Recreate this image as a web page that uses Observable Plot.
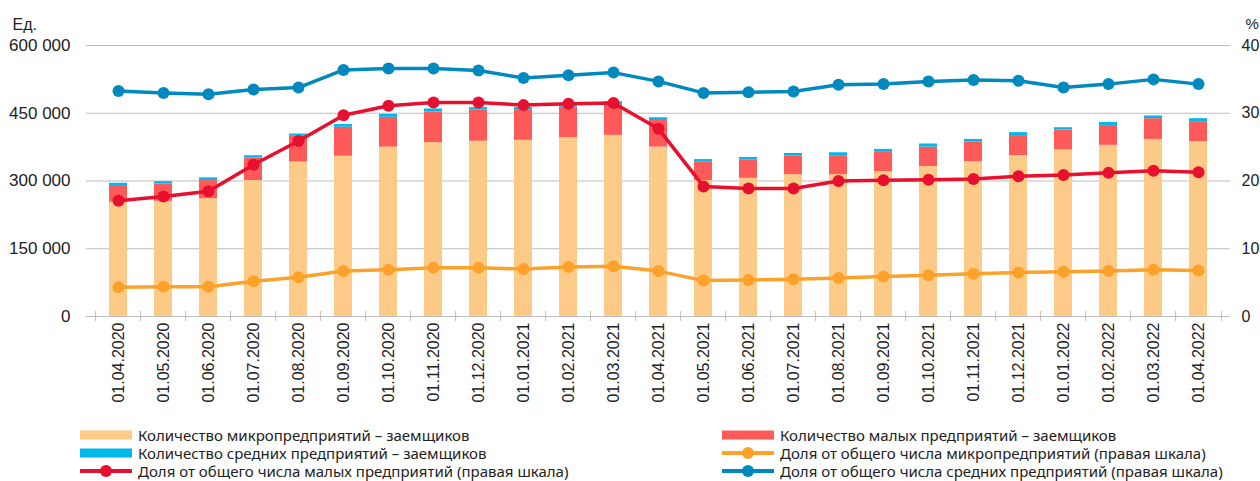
<!DOCTYPE html>
<html>
<head>
<meta charset="utf-8">
<script src="https://cdn.jsdelivr.net/npm/d3@7"></script>
<script src="https://cdn.jsdelivr.net/npm/@observablehq/plot@0.6"></script>
<style>
  body { margin: 0; background: #fff; }
  #chart { position: relative; width: 1260px; height: 481px; overflow: hidden; background: #fff; }
  .legend { position: absolute; left: 0; top: 420px; width: 1260px; height: 61px;
            font-family: "Noto Sans", sans-serif; font-size: 15px; color: #222; }
  .item { position: absolute; display: flex; align-items: center; height: 18px; white-space: nowrap; }
  .item svg { margin-right: 6px; flex: none; }
</style>
</head>
<body>
<div id="chart"></div>
<script>
// ---- data ----
const dates = ["01.04.2020","01.05.2020","01.06.2020","01.07.2020","01.08.2020","01.09.2020","01.10.2020","01.11.2020","01.12.2020",
  "01.01.2021","01.02.2021","01.03.2021","01.04.2021","01.05.2021","01.06.2021","01.07.2021","01.08.2021","01.09.2021","01.10.2021","01.11.2021","01.12.2021",
  "01.01.2022","01.02.2022","01.03.2022","01.04.2022"];
const microCount  = [253000,255000,261000,301000,342000,355000,375000,385000,388000,390000,396000,401000,375000,301000,306000,314000,314000,321000,332000,343000,356500,369000,379000,392000,387500];
const smallCount  = [37000,38500,40000,50000,57000,64000,66000,68000,69500,68000,67500,68000,59000,40500,41000,41000,42000,44000,43000,43000,44000,44000,44000,46000,44000];
const mediumCount = [5000,5000,6000,5000,5000,6000,6500,6500,5000,5000,5500,6500,6000,6000,5000,6000,6500,5000,7000,6000,6500,5000,6500,6000,6500];
const microShare  = [4.3,4.4,4.4,5.2,5.8,6.7,6.9,7.2,7.2,7.0,7.3,7.4,6.7,5.3,5.4,5.5,5.7,5.9,6.1,6.3,6.5,6.6,6.7,6.9,6.8];
const smallShare  = [17.1,17.7,18.5,22.4,25.9,29.7,31.1,31.6,31.6,31.2,31.4,31.5,27.7,19.2,18.9,18.9,20.0,20.1,20.2,20.3,20.7,20.9,21.2,21.5,21.3];
const mediumShare = [33.3,33.0,32.8,33.5,33.8,36.4,36.6,36.6,36.3,35.2,35.6,36.0,34.7,33.0,33.1,33.2,34.2,34.3,34.7,34.9,34.8,33.8,34.3,35.0,34.3];

const leftTicks  = [0,150000,300000,450000,600000];
const rightTicks = [0,10,20,30,40];
const leftUnit = "Ед.";
const rightUnit = "%";

const names = [
  "Количество микропредприятий – заемщиков",
  "Количество малых предприятий – заемщиков",
  "Количество средних предприятий – заемщиков",
  "Доля от общего числа микропредприятий (правая шкала)",
  "Доля от общего числа малых предприятий (правая шкала)",
  "Доля от общего числа средних предприятий (правая шкала)"
];
const colors = ["#fdca88", "#ff5a5a", "#00b8ea", "#fca22a", "#e8102f", "#0089be"];

// ---- layout ----
const W = 1260, H = 420, mL = 86, mR = 30, mT = 45, mB = 104;
const leftMax = leftTicks[leftTicks.length - 1];
const rightMax = rightTicks[rightTicks.length - 1];
const k = leftMax / rightMax;
const step = (W - mL - mR) / dates.length;
const tickLen = 5 * leftMax / (H - mT - mB);

const fmt = d => String(d).replace(/\B(?=(\d{3})+(?!\d))/g, " ");

const barRows = [];
dates.forEach((d, i) => {
  barRows.push({date: d, series: names[0], value: microCount[i]});
  barRows.push({date: d, series: names[1], value: smallCount[i]});
  barRows.push({date: d, series: names[2], value: mediumCount[i]});
});
const lineSets = [[names[3], microShare], [names[4], smallShare], [names[5], mediumShare]];
const lineRows = [];
lineSets.forEach(([n, arr]) => arr.forEach((v, i) => lineRows.push({date: dates[i], series: n, v: v * k})));

const gray = "#bdbdbd";

const chart = Plot.plot({
  width: W, height: H,
  marginLeft: mL, marginRight: mR, marginTop: mT, marginBottom: mB,
  style: {fontFamily: "'Liberation Sans', Arial, sans-serif", fontSize: "16px", color: "#222", background: "#fff"},
  x: {type: "band", domain: dates, paddingInner: 0.6, paddingOuter: 0.3},
  y: {domain: [0, leftMax]},
  color: {domain: names, range: colors},
  marks: [
    Plot.gridY({ticks: leftTicks, stroke: gray, strokeOpacity: 1, strokeWidth: 1}),
    Plot.barY(barRows, Plot.stackY({x: "date", y: "value", fill: "series", order: null})),
    Plot.ruleY([0], {stroke: gray, strokeWidth: 1}),
    Plot.ruleX(dates, {x: d => d, y1: -tickLen, y2: tickLen, dx: -step / 2, stroke: gray}),
    Plot.ruleX([dates[dates.length - 1]], {x: d => d, y1: -tickLen, y2: tickLen, dx: step / 2, stroke: gray}),
    Plot.line(lineRows, {x: "date", y: "v", z: "series", stroke: "series", strokeWidth: 3.5}),
    Plot.dot(lineRows, {x: "date", y: "v", fill: "series", r: 6}),
    Plot.axisY({anchor: "left", ticks: leftTicks, tickFormat: fmt, tickSize: 0, tickPadding: 16, fontSize: 17, label: null}),
    Plot.axisY({anchor: "right", ticks: rightTicks.map(t => t * k), tickFormat: d => fmt(Math.round(d / k)), tickSize: 0, tickPadding: 11, fontSize: 16, label: null}),
    Plot.axisX({tickRotate: -90, tickSize: 0, tickPadding: 6, fontSize: 16, label: null}),
    Plot.text([leftUnit], {frameAnchor: "top-left", dx: -74, dy: -27, textAnchor: "start", fontSize: 16}),
    Plot.text([rightUnit], {frameAnchor: "top-right", dx: 15, dy: -27, textAnchor: "start", fontSize: 15})
  ]
});

const root = document.getElementById("chart");
root.appendChild(chart);

// ---- legend ----
const legend = document.createElement("div");
legend.className = "legend";
const legendItems = [
  {i: 0, col: 0, row: 0, kind: "bar"},
  {i: 1, col: 1, row: 0, kind: "bar"},
  {i: 2, col: 0, row: 1, kind: "bar"},
  {i: 3, col: 1, row: 1, kind: "line"},
  {i: 4, col: 0, row: 2, kind: "line"},
  {i: 5, col: 1, row: 2, kind: "line"}
];
const colX = [80, 722];
const rowY = [5.5, 23.5, 41.5];
legendItems.forEach(it => {
  const el = document.createElement("div");
  el.className = "item";
  el.style.left = colX[it.col] + "px";
  el.style.top = rowY[it.row] + "px";
  const c = colors[it.i];
  const sw = it.kind === "bar"
    ? `<svg width="52" height="14"><rect x="0" y="2.5" width="52" height="9" fill="${c}"/></svg>`
    : `<svg width="52" height="14"><line x1="1" x2="51" y1="7" y2="7" stroke="${c}" stroke-width="4" stroke-linecap="round"/><circle cx="26" cy="7" r="6" fill="${c}"/></svg>`;
  el.innerHTML = sw + `<span>${names[it.i]}</span>`;
  legend.appendChild(el);
});
root.appendChild(legend);
</script>
</body>
</html>
